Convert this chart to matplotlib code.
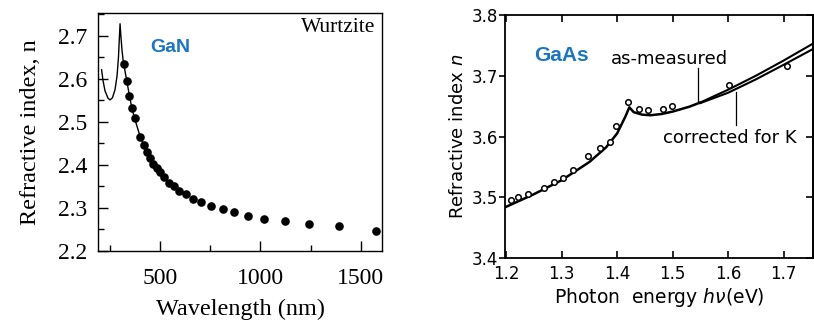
import matplotlib
matplotlib.use("Agg")
import matplotlib.pyplot as plt
from matplotlib.ticker import MultipleLocator, FixedLocator

# ---------------- GaN data (left) ----------------
gan_curve_x = [208, 215, 225, 240, 250, 262, 275, 285, 292, 297, 300, 304, 310, 316, 322,
               334, 347, 359, 372, 400, 430, 466, 500, 550, 600]
gan_curve_y = [2.621, 2.596, 2.572, 2.555, 2.551, 2.556, 2.575, 2.607, 2.650, 2.700, 2.728,
               2.700, 2.665, 2.640, 2.625, 2.594, 2.560, 2.532, 2.509, 2.466, 2.433, 2.403,
               2.381, 2.356, 2.338]
gan_dots_x = [320, 334, 347, 359, 372, 400, 417, 435, 450, 466, 483, 498, 517, 542, 567, 596,
              628, 664, 705, 753, 812, 868, 938, 1019, 1120, 1243, 1390, 1578]
gan_dots_y = [2.634, 2.594, 2.560, 2.532, 2.509, 2.466, 2.447, 2.431, 2.416, 2.403, 2.392,
              2.384, 2.371, 2.359, 2.350, 2.340, 2.332, 2.320, 2.313, 2.305, 2.297, 2.290,
              2.281, 2.274, 2.269, 2.263, 2.259, 2.247]
gan_xticks = [500, 1000, 1500]
gan_yticks = [2.2, 2.3, 2.4, 2.5, 2.6, 2.7]

# ---------------- GaAs data (right) ----------------
gaas_common_x = [1.197, 1.25, 1.30, 1.35, 1.38, 1.40, 1.415, 1.422, 1.430, 1.445, 1.460,
                 1.480, 1.500, 1.530, 1.550]
gaas_common_y = [3.483, 3.505, 3.528, 3.558, 3.582, 3.605, 3.633, 3.648, 3.640, 3.636, 3.635,
                 3.637, 3.641, 3.649, 3.656]
gaas_meas_x = [1.550, 1.60, 1.65, 1.70, 1.755]
gaas_meas_y = [3.656, 3.677, 3.700, 3.725, 3.754]
gaas_corr_x = [1.550, 1.60, 1.65, 1.70, 1.755]
gaas_corr_y = [3.655, 3.672, 3.694, 3.718, 3.745]
gaas_pts_x = [1.209, 1.221, 1.239, 1.269, 1.286, 1.302, 1.320, 1.347, 1.369, 1.387, 1.398,
              1.420, 1.440, 1.456, 1.482, 1.499, 1.602, 1.706]
gaas_pts_y = [3.495, 3.501, 3.506, 3.515, 3.525, 3.532, 3.545, 3.568, 3.581, 3.591, 3.618,
              3.657, 3.645, 3.644, 3.645, 3.650, 3.685, 3.716]
gaas_xticks = [1.2, 1.3, 1.4, 1.5, 1.6, 1.7]
gaas_yticks = [3.4, 3.5, 3.6, 3.7, 3.8]

blue = "#1b75c4"
serif = ["Liberation Serif", "DejaVu Serif"]
sans = ["DejaVu Sans"]

fig = plt.figure(figsize=(8.14, 3.21), dpi=100)
fig.patch.set_facecolor("white")

# ================= Left: GaN =================
ax1 = fig.add_axes([98 / 814, 70 / 321, 284 / 814, 238 / 321])
ax1.plot(gan_curve_x, gan_curve_y, color="black", lw=1.0)
ax1.plot(gan_dots_x, gan_dots_y, "o", color="black", ms=6.2, mew=0)
ax1.set_xlim(190, 1606)
ax1.set_ylim(2.2, 2.753)
ax1.xaxis.set_major_locator(FixedLocator(gan_xticks))
ax1.xaxis.set_minor_locator(FixedLocator([250, 750, 1250]))
ax1.yaxis.set_major_locator(FixedLocator(gan_yticks))
ax1.yaxis.set_minor_locator(MultipleLocator(0.05))
ax1.set_xticklabels([str(v) for v in gan_xticks], fontfamily=serif, fontsize=17)
ax1.set_yticklabels([f"{v:.1f}" for v in gan_yticks], fontfamily=serif, fontsize=17)
ax1.tick_params(which="both", direction="in", top=False, right=False, width=1.0)
ax1.tick_params(axis="x", which="major", length=7, pad=12)
ax1.tick_params(axis="x", which="minor", length=4)
ax1.tick_params(axis="y", which="major", length=7, pad=8)
ax1.tick_params(axis="y", which="minor", length=4)
for s in ax1.spines.values():
    s.set_linewidth(1.0)
ax1.set_xlabel("Wavelength (nm)", fontfamily=serif, fontsize=17.5)
ax1.set_ylabel("Refractive index, n", fontfamily=serif, fontsize=17.5)
ax1.xaxis.set_label_coords(0.5, -0.2)
ax1.yaxis.set_label_coords(-0.2, 0.5)
ax1.text(0.975, 0.94, "Wurtzite", transform=ax1.transAxes, ha="right", va="center",
         fontfamily=serif, fontsize=15.5)
ax1.text(0.253, 0.853, "GaN", transform=ax1.transAxes, ha="center", va="center",
         fontfamily=["Liberation Sans", "DejaVu Sans"], fontweight="bold", fontsize=14, color=blue)

# ================= Right: GaAs =================
ax2 = fig.add_axes([505 / 814, 63 / 321, 308 / 814, 243 / 321])
ax2.plot(gaas_common_x, gaas_common_y, color="black", lw=1.8, solid_joinstyle="round")
ax2.plot(gaas_meas_x, gaas_meas_y, color="black", lw=1.5)
ax2.plot(gaas_corr_x, gaas_corr_y, color="black", lw=1.5)
ax2.plot(gaas_pts_x, gaas_pts_y, "o", ms=4.0, mfc="white", mec="black", mew=1.1)
ax2.set_xlim(1.198, 1.753)
ax2.set_ylim(3.4, 3.8)
ax2.xaxis.set_major_locator(FixedLocator(gaas_xticks))
ax2.yaxis.set_major_locator(FixedLocator(gaas_yticks))
ax2.set_xticklabels([f"{v:.1f}" for v in gaas_xticks], fontfamily=sans, fontsize=12)
ax2.set_yticklabels([f"{v:.1f}" for v in gaas_yticks], fontfamily=sans, fontsize=12)
ax2.tick_params(axis="x", direction="in", top=True, length=5, width=1.2, pad=5)
ax2.tick_params(axis="y", direction="out", right=False, length=4, width=1.2, pad=1)
sec = ax2.secondary_yaxis("right")
sec.yaxis.set_major_locator(FixedLocator(gaas_yticks))
sec.tick_params(direction="in", length=5, width=1.2, labelright=False)
for s in sec.spines.values():
    s.set_linewidth(1.3)
for s in ax2.spines.values():
    s.set_linewidth(1.3)
ax2.set_xlabel("Photon  energy $h\\nu$(eV)", fontfamily=sans, fontsize=13.5)
ax2.set_ylabel("Refractive index $n$", fontfamily=sans, fontsize=13)
ax2.xaxis.set_label_coords(0.5, -0.115)
ax2.yaxis.set_label_coords(-0.125, 0.5)
ax2.text(1.299, 3.734, "GaAs", ha="center", va="center", color=blue,
         fontfamily=["Liberation Sans", "DejaVu Sans"], fontweight="bold", fontsize=15)
ax2.text(1.494, 3.727, "as-measured", ha="center", va="center", fontfamily=sans, fontsize=13)
ax2.text(1.603, 3.598, "corrected for K", ha="center", va="center", fontfamily=sans, fontsize=13)
ax2.plot([1.545, 1.545], [3.713, 3.659], color="black", lw=0.9)
ax2.plot([1.615, 1.615], [3.674, 3.619], color="black", lw=0.9)

fig.savefig("out.png", dpi=100, facecolor="white")
